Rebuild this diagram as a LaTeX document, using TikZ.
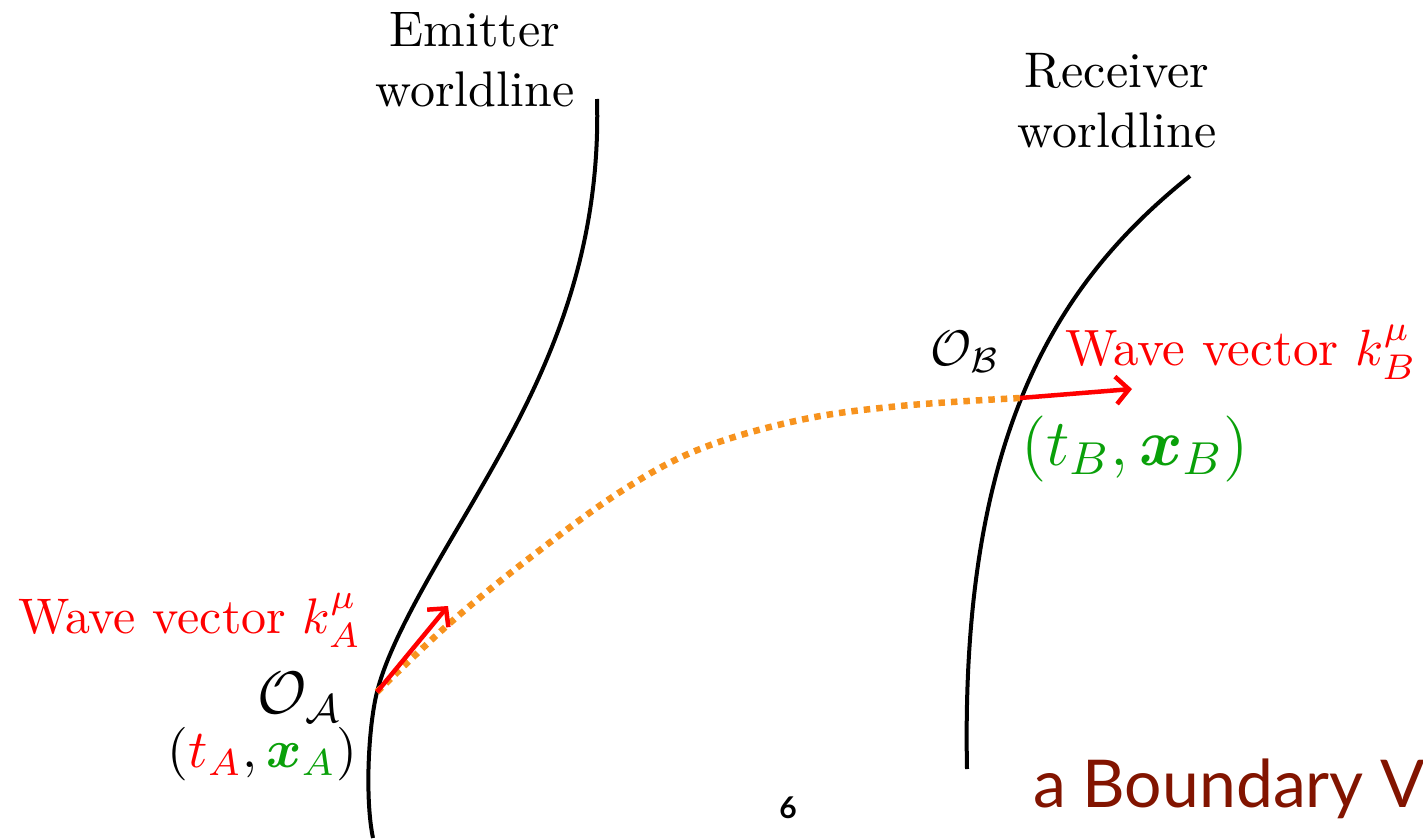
\RequirePackage{fix-cm}
\documentclass[tikz,border=0pt]{standalone}
\usepackage{amsmath,amssymb}
\usepackage{bm}
\usepackage{fontspec}
\newfontfamily\slidefont{Lato}
\usepackage{tikz}
\usetikzlibrary{arrows.meta}
\definecolor{photonorange}{RGB}{247,147,30}
\definecolor{eventgreen}{RGB}{10,160,10}
\definecolor{slidered}{RGB}{130,20,0}

\begin{document}
\begin{tikzpicture}[
    x=0.2pt, y=-0.2pt,
    worldline/.style={line width=0.8pt, black},
    photon/.style={line width=1.3pt, photonorange, dash pattern=on 1.3pt off 1.2pt},
    wavevec/.style={-{Straight Barb[length=2.6pt, width=5.5pt]}, line width=0.9pt, red},
    wltext/.style={inner sep=0pt, align=center, font=\normalsize},
    wavelabel/.style={inner sep=0pt, text=red, anchor=base west},
    event/.style={inner sep=0pt},
]
\useasboundingbox (0,0) rectangle (1423,838);

% Events on the two worldlines
\coordinate (evA) at (377,692);
\coordinate (evB) at (1020,398);
\coordinate (kA) at (448,606);
\coordinate (kB) at (1132,389);

% Worldlines
\draw[worldline] (597,99) .. controls (602,280) and (528,407) .. (470,507)
    .. controls (435,567) and (390,640) .. (evA)
    .. controls (368,728) and (365,800) .. (373,838);
\draw[worldline] (1190,176) .. controls (1060,280) and (960,430) .. (967,769);

% Light ray from emitter to receiver
\draw[photon] plot[smooth, tension=0.6] coordinates {
    (377,692) (450,623) (527,560) (620,492) (700,449) (800,420) (900,406) (1020,398)};

% Wave vectors
\draw[wavevec] (evA) -- (kA);
\draw[wavevec] (evB) -- (kB);

% Labels
\node[wltext, anchor=north] (emitter) at (475,12) {Emitter\\worldline};
\node[wltext, anchor=north] (receiver) at (1117,52) {Receiver\\worldline};
\node[wavelabel] (waveA) at (17,633) {Wave vector $k_A^\mu$};
\node[wavelabel, font=\fontsize{10.2}{12}\selectfont] (waveB) at (1064,365) {Wave vector $k_B^\mu$};
\node[event, anchor=base east, font=\large] (obsA) at (343,713) {$\mathcal{O}_{\mathcal{A}}$};
\node[event, anchor=base east, font=\fontsize{10.7}{13}\selectfont] (coordA) at (358,767)
     {$(\textcolor{red}{t_A},\textcolor{eventgreen}{\bm{x}_A})$};
\node[event, anchor=base east] (obsB) at (1001,365) {$\mathcal{O}_{\mathcal{B}}$};
\node[event, anchor=base west, text=eventgreen, font=\fontsize{13.2}{16}\selectfont] (coordB) at (1020,465)
     {$(t_B,\bm{x}_B)$};

% Slide footer
\node[inner sep=0pt, font=\slidefont\bfseries\fontsize{6}{7}\selectfont] (pagenum) at (788,808) {6};
\node[inner sep=0pt, anchor=base west, text=slidered, font=\slidefont\fontsize{13.2}{16}\selectfont] (footer) at (1032,807) {a Boundary V};

\end{tikzpicture}
\end{document}
